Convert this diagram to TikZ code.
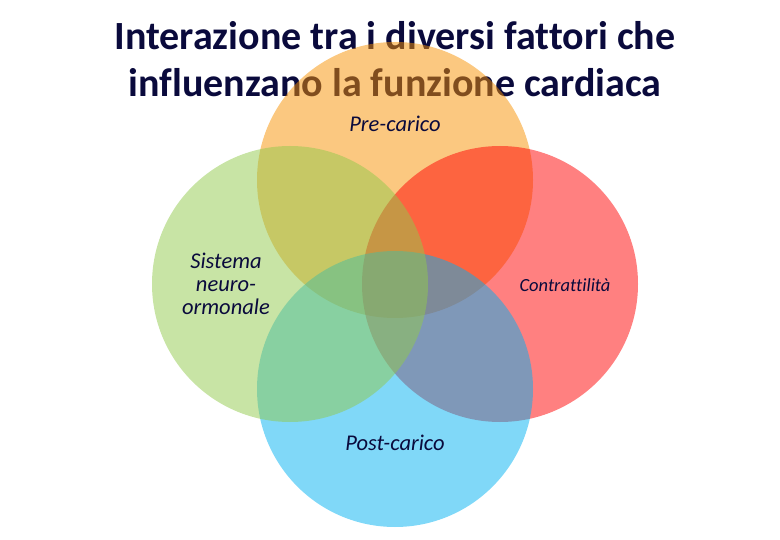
\documentclass[tikz,border=0pt]{standalone}
\usepackage{fontspec}
\setmainfont{Carlito}[Ligatures=NoCommon]
\usetikzlibrary{positioning}
\definecolor{titlenavy}{RGB}{10, 10, 60}
\definecolor{preorange}{RGB}{247, 145, 1}
\definecolor{neurogreen}{RGB}{145, 201, 75}
\definecolor{contrred}{RGB}{255, 1, 1}
\definecolor{postblue}{RGB}{1, 177, 241}

\begin{document}
\begin{tikzpicture}[x=1pt, y=-1pt,
    factor/.style={circle, minimum size=276pt, inner sep=0pt, fill opacity=0.5},
    heading/.style={text=titlenavy, font=\bfseries\fontsize{40}{47}\selectfont, anchor=base, inner sep=0pt},
    label/.style={text=titlenavy, font=\itshape\fontsize{22.5}{23}\selectfont, align=center}]
            \useasboundingbox (0,0) rectangle (780,540);
            \node[heading] (title1) at (395,50) {Interazione tra i diversi fattori che};
            \node[heading] (title2) at (395,97) {influenzano la funzione cardiaca};

            \node[factor, fill=preorange] (pre) at (395,180) {};
            \node[factor, fill=contrred] (contr) at (500,284) {};
            \node[factor, fill=postblue] (post) at (395,389) {};
            \node[factor, fill=neurogreen] (neuro) at (290,284) {};

            \node[label] (prelbl) at (395,124) {Pre-carico};
            \node[label] (neurolbl) at (226,284) {Sistema\\neuro-\\ormonale};
            \node[label, font=\itshape\fontsize{18.5}{20}\selectfont] (contrlbl) at (565,285) {Contrattilità};
            \node[label] (postlbl) at (395,443) {Post-carico};
        \end{tikzpicture}
\end{document}
